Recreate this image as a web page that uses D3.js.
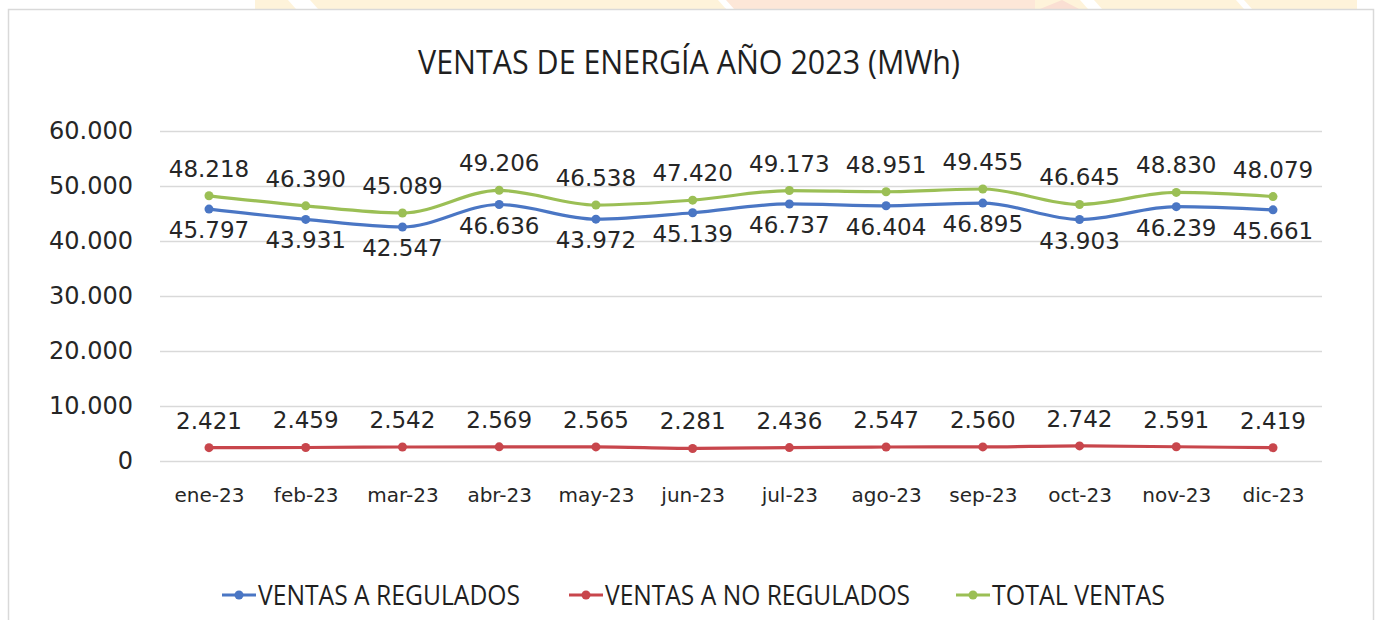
<!DOCTYPE html>
<html>
<head>
<meta charset="utf-8">
<script src="https://cdn.jsdelivr.net/npm/d3@7"></script>
<style>
  html, body { margin: 0; padding: 0; background: #fff; }
  svg { display: block; }
</style>
</head>
<body>
<div id="chart"></div>
<script>
const WIDTH = 1379;
const HEIGHT = 620;

// chart values
const months = ["ene-23", "feb-23", "mar-23", "abr-23", "may-23", "jun-23",
                "jul-23", "ago-23", "sep-23", "oct-23", "nov-23", "dic-23"];
const regulados = [45797, 43931, 42547, 46636, 43972, 45139, 46737, 46404, 46895, 43903, 46239, 45661];
const noRegulados = [2421, 2459, 2542, 2569, 2565, 2281, 2436, 2547, 2560, 2742, 2591, 2419];
const totalVentas = [48218, 46390, 45089, 49206, 46538, 47420, 49173, 48951, 49455, 46645, 48830, 48079];
const yTicks = [0, 10000, 20000, 30000, 40000, 50000, 60000];
const title = "VENTAS DE ENERGÍA AÑO 2023 (MWh)";

const series = [
  { name: "VENTAS A REGULADOS", values: regulados, color: "#4a76c4", labelPos: "below" },
  { name: "VENTAS A NO REGULADOS", values: noRegulados, color: "#c8464c", labelPos: "above" },
  { name: "TOTAL VENTAS", values: totalVentas, color: "#9bbf55", labelPos: "above" }
];

const esLocale = d3.formatLocale({ decimal: ",", thousands: ".", grouping: [3], currency: ["", " €"] });
const fmt = esLocale.format(",d");

const svg = d3.select("#chart")
  .append("svg")
  .attr("width", WIDTH)
  .attr("height", HEIGHT)
  .attr("viewBox", [0, 0, WIDTH, HEIGHT]);

// faint watermark strip above the frame
const wm = svg.append("g");
wm.append("rect").attr("x", 255).attr("y", 0).attr("width", 1102).attr("height", 9).attr("fill", "#fef3da");
wm.append("rect").attr("x", 725).attr("y", 0).attr("width", 310).attr("height", 9).attr("fill", "#fde7d8");
wm.append("polygon").attr("points", "1040,9 1062,0 1079,9").attr("fill", "#fadfd3");
[[288, 310], [718, 726], [1080, 1094], [1236, 1244]].forEach(([a, b]) => {
  wm.append("polygon")
    .attr("points", `${a},0 ${b},0 ${b + 8},9 ${a + 8},9`)
    .attr("fill", "#fff");
});

// chart frame
svg.append("rect")
  .attr("x", 8.5).attr("y", 9.5)
  .attr("width", 1365).attr("height", 640)
  .attr("fill", "#fff")
  .attr("stroke", "#d9d9d9")
  .attr("stroke-width", 1.5);

// title
svg.append("text")
  .attr("x", 689)
  .attr("y", 74)
  .attr("text-anchor", "middle")
  .attr("font-family", "'Open Sans', sans-serif")
  .attr("font-size", 32)
  .attr("fill", "#1f1f1f")
  .attr("textLength", 542)
  .attr("lengthAdjust", "spacingAndGlyphs")
  .text(title);

const x = d3.scalePoint()
  .domain(months)
  .range([209, 1273]);

const y = d3.scaleLinear()
  .domain([0, 60000])
  .range([461, 131]);

// y axis + gridlines
const yAxis = svg.append("g")
  .attr("transform", "translate(160,0)")
  .call(d3.axisLeft(y).tickValues(yTicks).tickFormat(fmt).tickSize(-1162).tickPadding(27));
yAxis.select(".domain").remove();
yAxis.selectAll(".tick line")
  .attr("stroke", "#d9d9d9")
  .attr("stroke-width", 1.5);
yAxis.selectAll(".tick text")
  .attr("font-family", "'DejaVu Sans', sans-serif")
  .attr("font-size", 24)
  .attr("fill", "#262626");

// x axis
const xAxis = svg.append("g")
  .attr("transform", "translate(0,461)")
  .call(d3.axisBottom(x).tickSize(0).tickPadding(27));
xAxis.select(".domain").remove();
xAxis.selectAll(".tick text")
  .attr("font-family", "'DejaVu Sans', sans-serif")
  .attr("font-size", 20)
  .attr("fill", "#262626");

const line = d3.line()
  .x((d, i) => x(months[i]))
  .y(d => y(d))
  .curve(d3.curveMonotoneX);

series.forEach(s => {
  const g = svg.append("g");
  g.append("path")
    .datum(s.values)
    .attr("fill", "none")
    .attr("stroke", s.color)
    .attr("stroke-width", 3.2)
    .attr("d", line);

  g.selectAll("circle")
    .data(s.values)
    .enter().append("circle")
    .attr("cx", (d, i) => x(months[i]))
    .attr("cy", d => y(d))
    .attr("r", 4.5)
    .attr("fill", s.color);

  g.selectAll("text")
    .data(s.values)
    .enter().append("text")
    .attr("x", (d, i) => x(months[i]))
    .attr("y", d => s.labelPos === "above" ? y(d) - 19 : y(d) + 29)
    .attr("text-anchor", "middle")
    .attr("font-family", "'DejaVu Sans', sans-serif")
    .attr("font-size", 23)
    .attr("fill", "#262626")
    .text(d => fmt(d));
});

// legend
const legendItems = [
  { s: series[0], x0: 222, textLen: 262 },
  { s: series[1], x0: 569, textLen: 305 },
  { s: series[2], x0: 956, textLen: 173 }
];
const legend = svg.append("g").attr("transform", "translate(0,595)");
legendItems.forEach(it => {
  const g = legend.append("g").attr("transform", `translate(${it.x0},0)`);
  g.append("line")
    .attr("x1", 0).attr("x2", 34)
    .attr("y1", 0).attr("y2", 0)
    .attr("stroke", it.s.color)
    .attr("stroke-width", 3.2);
  g.append("circle")
    .attr("cx", 17).attr("cy", 0).attr("r", 4.5)
    .attr("fill", it.s.color);
  g.append("text")
    .attr("x", 36)
    .attr("y", 10)
    .attr("font-family", "'Open Sans', sans-serif")
    .attr("font-size", 27)
    .attr("fill", "#1f1f1f")
    .attr("textLength", it.textLen)
    .attr("lengthAdjust", "spacingAndGlyphs")
    .text(it.s.name);
});
</script>
</body>
</html>
